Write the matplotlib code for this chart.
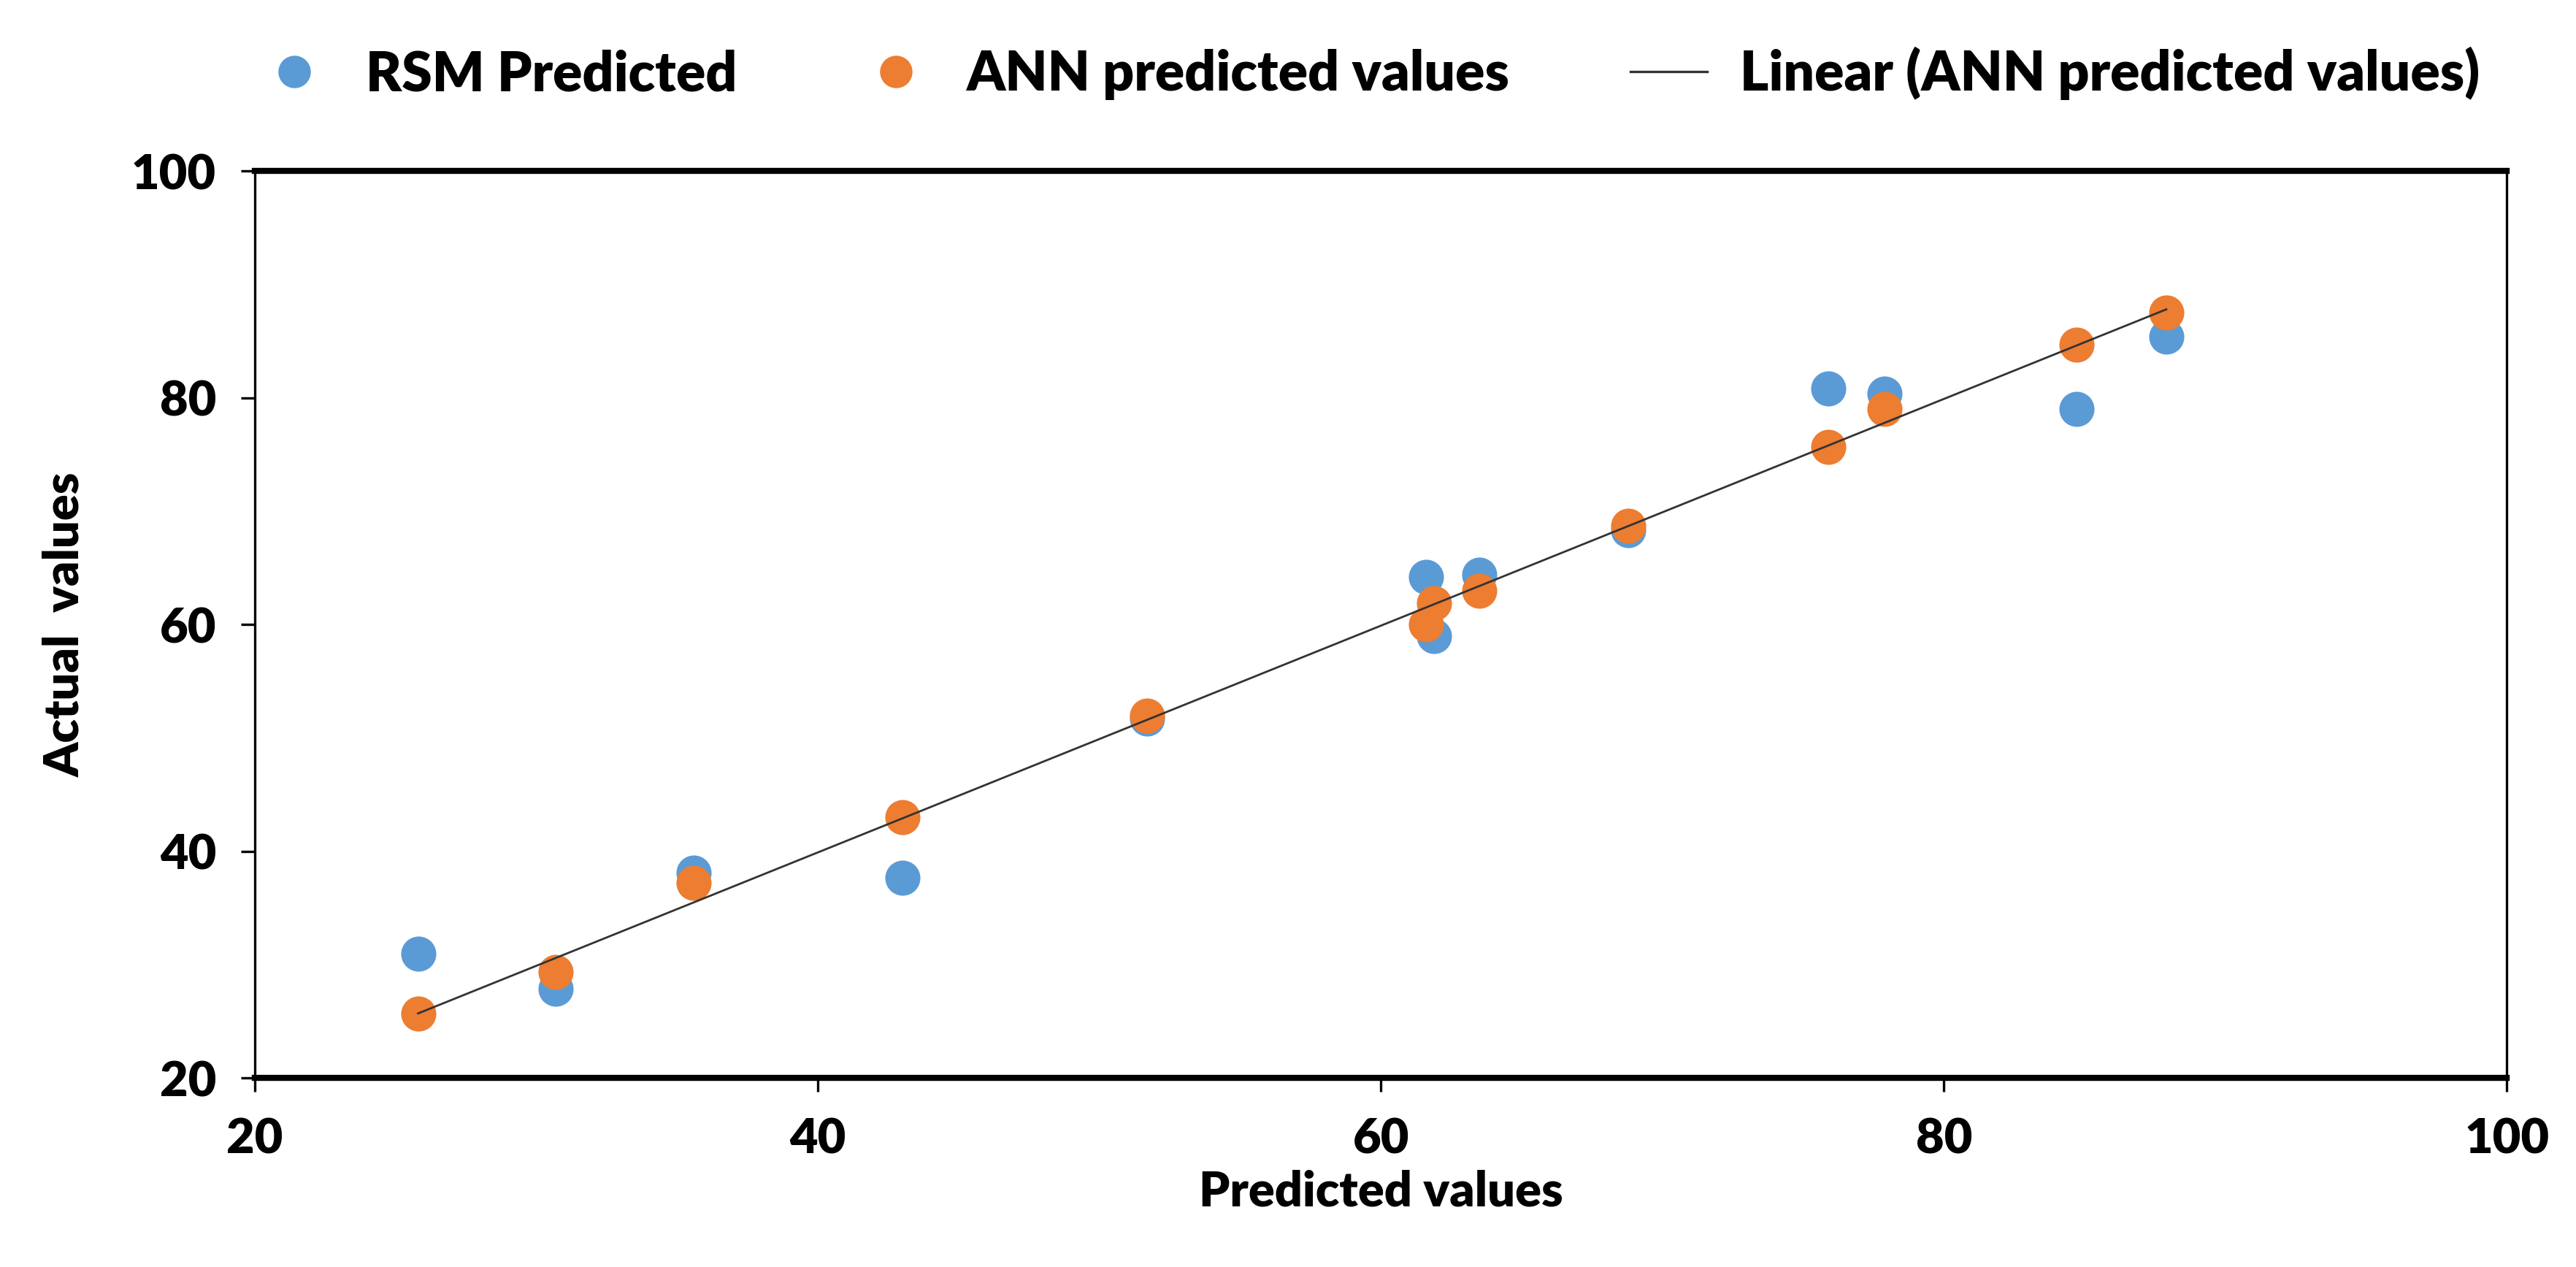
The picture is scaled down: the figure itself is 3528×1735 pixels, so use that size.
import matplotlib.pyplot as plt
import numpy as np
from matplotlib.lines import Line2D

plt.rcParams['font.family'] = ['Lato', 'DejaVu Sans']
plt.rcParams['font.weight'] = 'bold'

# predicted values (x) shared by both series
predicted = [25.8, 30.7, 35.6, 43.0, 51.7, 61.6, 61.9, 63.5, 68.8, 75.9, 77.9, 84.7, 87.9]
rsm_actual = [31.0, 27.9, 38.1, 37.7, 51.7, 64.2, 59.0, 64.4, 68.3, 80.8, 80.4, 79.0, 85.4]
ann_actual = [25.7, 29.4, 37.2, 43.0, 52.0, 60.0, 61.9, 63.0, 68.7, 75.7, 79.0, 84.7, 87.5]

blue = '#5B9BD5'
orange = '#ED7D31'

fig = plt.figure(figsize=(17.64, 8.675), dpi=200)
ax = fig.add_axes([0.0989, 0.149, 0.8743, 0.716])

ax.scatter(predicted, rsm_actual, s=300, color=blue, zorder=2, linewidths=0)
ax.scatter(predicted, ann_actual, s=300, color=orange, zorder=3, linewidths=0)

# linear trendline for ANN values
k, b = np.polyfit(predicted, ann_actual, 1)
xs = np.array([min(predicted), max(predicted)])
ax.plot(xs, k * xs + b, color='#333333', lw=1.0, zorder=4)

ax.set_xlim(20, 100)
ax.set_ylim(20, 100)
ax.set_xticks([20, 40, 60, 80, 100])
ax.set_yticks([20, 40, 60, 80, 100])
ax.tick_params(direction='out', length=7, width=1.2, labelsize=24, pad=12)
for lab in ax.get_xticklabels() + ax.get_yticklabels():
    lab.set_fontweight('heavy')

ax.spines['top'].set_linewidth(3)
ax.spines['bottom'].set_linewidth(3)
ax.spines['left'].set_linewidth(1.2)
ax.spines['right'].set_linewidth(1.2)

ax.set_xlabel('Predicted values', fontsize=24, fontweight='heavy', labelpad=4)
ax.set_ylabel('Actual  values', fontsize=24, fontweight='heavy', labelpad=22)

handles = [
    Line2D([], [], marker='o', ls='', color=blue, markersize=15, label='RSM Predicted'),
    Line2D([], [], marker='o', ls='', color=orange, markersize=15, label='ANN predicted values'),
    Line2D([], [], color='#333333', lw=1.2, label='Linear (ANN predicted values)'),
]
fig.legend(handles=handles, loc='center', bbox_to_anchor=(0.531, 0.942), ncol=3,
           frameon=False, handlelength=1.4, handletextpad=0.6,
           columnspacing=2.2, prop={'weight': 'heavy', 'size': 27})

fig.savefig('out.png', dpi=200)
